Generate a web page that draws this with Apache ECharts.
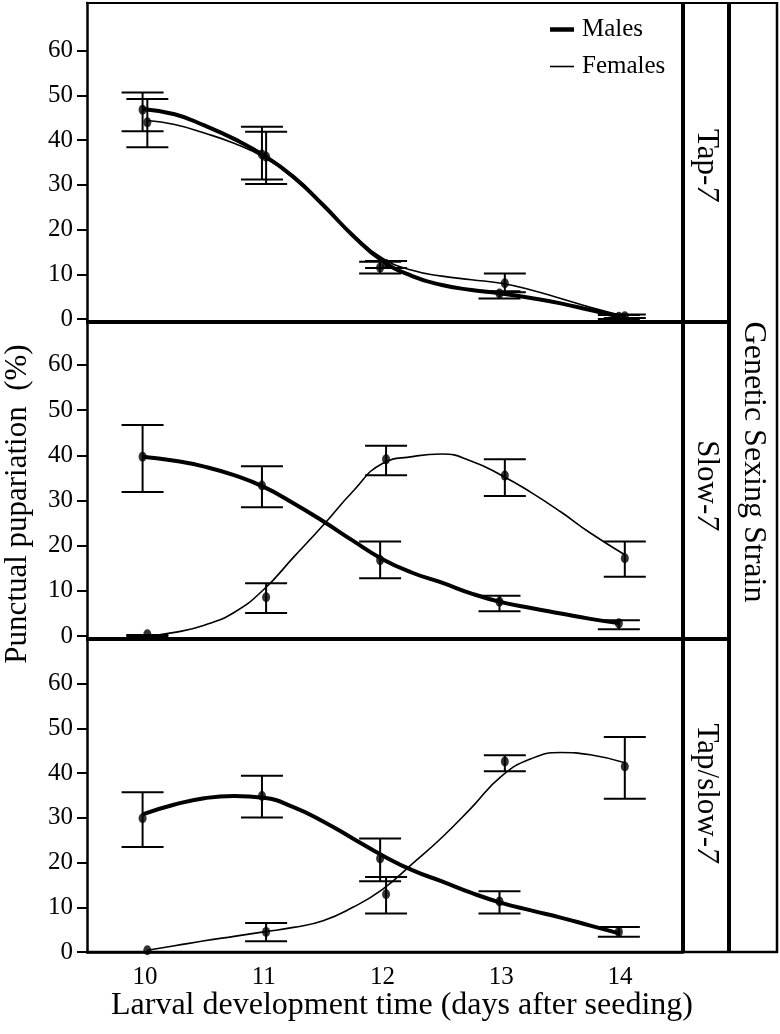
<!DOCTYPE html>
<html><head><meta charset="utf-8">
<script src="https://cdn.jsdelivr.net/npm/echarts@6.0.0/dist/echarts.min.js"></script>
<style>html,body{margin:0;padding:0;background:#fff}#c{width:780px;height:1034px}</style>
</head><body><div id="c"></div>
<script>
// ---------- data ----------
const dayTicks = [10, 11, 12, 13, 14];
const yTicks = [0, 10, 20, 30, 40, 50, 60];
// slight horizontal dodge of the two sexes
const maleX = [9.98, 10.985, 11.98, 12.985, 13.99];
const femaleX = [10.02, 11.02, 12.03, 13.03, 14.04];

const strainLabels = ['Tap-', 'Slow-', 'Tap/slow-'];
const seriesNames = ['Males', 'Females'];

// x positions of the fitted-curve readings
const curveX = [10, 10.25, 10.5, 10.75, 11, 11.25, 11.5, 11.75, 12, 12.25, 12.5, 12.75, 13, 13.25, 13.5, 13.75, 14];

// Panel 1: Tap-7
const tapMaleMean = [46.8, 36.8, 11.5, 5.7, 0.5];
const tapMaleLow = [42.0, 31.2, 10.2, 4.6, 0.0];
const tapMaleHigh = [50.7, 43.0, 12.8, 6.2, 0.9];
const tapFemaleMean = [44.0, 36.3, 12.3, 8.0, 0.6];
const tapFemaleLow = [38.4, 30.2, 11.4, 6.0, 0.2];
const tapFemaleHigh = [49.2, 41.9, 13.0, 10.2, 1.0];
const tapMaleCurve = [47.0, 45.8, 43.3, 40.3, 36.6, 31.8, 25.5, 18.7, 13.0, 9.6, 7.6, 6.5, 5.7, 4.7, 3.5, 2.0, 0.5];
const tapFemaleCurve = [44.4, 43.5, 41.6, 39.3, 36.2, 31.5, 25.4, 18.9, 13.6, 10.9, 9.6, 8.8, 8.0, 6.5, 4.6, 2.6, 0.6];

// Panel 2: Slow-7
const slowMaleMean = [39.7, 33.3, 16.8, 7.6, 2.8];
const slowMaleLow = [31.9, 28.5, 12.8, 5.5, 1.5];
const slowMaleHigh = [46.7, 37.6, 20.9, 8.9, 3.5];
const slowFemaleMean = [0.4, 8.6, 39.1, 35.5, 17.2];
const slowFemaleLow = [0.0, 5.1, 35.6, 31.0, 13.1];
const slowFemaleHigh = [0.2, 11.7, 42.1, 39.1, 20.9];
const slowMaleCurve = [39.7, 38.8, 37.5, 35.6, 33.0, 29.4, 25.4, 21.1, 17.0, 14.0, 11.8, 9.4, 7.5, 6.2, 5.0, 3.8, 2.8];
const slowFemaleCurve = [0.0, 0.8, 2.4, 5.2, 10.3, 17.4, 24.5, 32.0, 38.2, 39.7, 40.3, 38.7, 35.6, 31.8, 27.5, 22.8, 18.0];

// Panel 3: Tap/slow-7
const tsMaleMean = [29.9, 34.9, 20.9, 11.3, 4.5];
const tsMaleLow = [23.5, 30.1, 15.8, 8.6, 3.4];
const tsMaleHigh = [35.7, 39.4, 25.4, 13.6, 5.6];
const tsFemaleMean = [0.4, 4.5, 12.9, 42.6, 41.5];
const tsFemaleLow = [null, 2.4, 8.6, 40.4, 34.3];
const tsFemaleHigh = [null, 6.5, 16.8, 44.0, 48.1];
const tsMaleCurve = [30.8, 33.0, 34.4, 34.9, 34.5, 32.4, 29.2, 25.4, 21.6, 18.3, 15.8, 13.2, 11.0, 9.3, 7.7, 5.9, 4.1];
const tsFemaleCurve = [0.4, 1.4, 2.5, 3.5, 4.5, 5.5, 7.0, 10.0, 14.0, 19.7, 25.6, 32.3, 39.3, 43.2, 44.6, 44.1, 42.3];

// ---------- build ----------
const FONT = '"Liberation Serif", serif';
const richSerif = {s: {fontFamily: FONT, fontSize: 25, color: '#000'}};
const panels = [
  {mMean: tapMaleMean, mLow: tapMaleLow, mHigh: tapMaleHigh, fMean: tapFemaleMean, fLow: tapFemaleLow, fHigh: tapFemaleHigh,
   mc: tapMaleCurve, fc: tapFemaleCurve},
  {mMean: slowMaleMean, mLow: slowMaleLow, mHigh: slowMaleHigh, fMean: slowFemaleMean, fLow: slowFemaleLow, fHigh: slowFemaleHigh,
   mc: slowMaleCurve, fc: slowFemaleCurve},
  {mMean: tsMaleMean, mLow: tsMaleLow, mHigh: tsMaleHigh, fMean: tsFemaleMean, fLow: tsFemaleLow, fHigh: tsFemaleHigh,
   mc: tsMaleCurve, fc: tsFemaleCurve}
];
const gridLayout = [
  {top: 3, height: 319, min: -0.67, max: 70.7},
  {top: 322, height: 317, min: -0.66, max: 69.5},
  {top: 639, height: 313, min: 0, max: 70}
];
const PL = 87, PR = 683;

function zip(a, b) { return a.map((v, i) => [v, b[i]]); }
function errData(xs, lo, hi) {
  const out = [];
  xs.forEach((x, i) => { if (lo[i] != null && hi[i] != null) out.push([x, lo[i], hi[i]]); });
  return out;
}
function errRender(params, api) {
  const x = api.value(0), lo = api.value(1), hi = api.value(2);
  const t = api.coord([x, hi]), b = api.coord([x, lo]);
  const hw = 21;
  const st = {stroke: '#000', lineWidth: 2, fill: null};
  return {type: 'group', children: [
    {type: 'line', shape: {x1: t[0], y1: t[1], x2: b[0], y2: b[1]}, style: st},
    {type: 'line', shape: {x1: t[0] - hw, y1: t[1], x2: t[0] + hw, y2: t[1]}, style: st},
    {type: 'line', shape: {x1: b[0] - hw, y1: b[1], x2: b[0] + hw, y2: b[1]}, style: st}
  ]};
}
const richFmt = (v) => '{s|' + v + '}';

const grids = [], xAxes = [], yAxes = [], series = [];
gridLayout.forEach((g, i) => {
  grids.push({left: PL, width: PR - PL, top: g.top, height: g.height, containLabel: false});
  xAxes.push({
    type: 'value', gridIndex: i, min: 9.512, max: 14.53,
    axisLine: {show: i === 2, lineStyle: {color: '#000', width: 2.5}},
    axisTick: {show: false},
    splitLine: {show: false},
    axisLabel: {show: i === 2, customValues: dayTicks, margin: 13, color: '#000',
      fontFamily: FONT, fontSize: 25, formatter: richFmt, rich: richSerif}
  });
  yAxes.push({
    type: 'value', gridIndex: i, min: g.min, max: g.max,
    axisLine: {show: true, lineStyle: {color: '#000', width: 2.5}},
    axisTick: {show: true, customValues: yTicks, length: 10, lineStyle: {color: '#000', width: 2}},
    axisLabel: {customValues: yTicks, margin: 14, color: '#000', fontFamily: FONT, fontSize: 25,
      formatter: richFmt, rich: richSerif},
    splitLine: {show: false}
  });
  const p = panels[i];
  const mcx = curveX.slice(); mcx[0] = 9.98;
  const fcx = curveX.slice(); fcx[0] = 10.02; fcx[fcx.length - 1] = 14.04;
  series.push({
    name: seriesNames[0], type: 'line', xAxisIndex: i, yAxisIndex: i,
    data: zip(mcx, p.mc), smooth: 0.5, symbol: 'none', showSymbol: false,
    lineStyle: {color: '#000', width: 4}, itemStyle: {color: '#000'}, z: 3, silent: true
  });
  series.push({
    name: seriesNames[1], type: 'line', xAxisIndex: i, yAxisIndex: i,
    data: zip(fcx, p.fc), smooth: 0.5, symbol: 'none', showSymbol: false,
    lineStyle: {color: '#000', width: 1.6}, itemStyle: {color: '#000'}, z: 3, silent: true
  });
  series.push({
    name: 'err-m' + i, type: 'custom', xAxisIndex: i, yAxisIndex: i,
    data: errData(maleX, p.mLow, p.mHigh), renderItem: errRender,
    encode: {x: 0, y: [1, 2]}, z: 2, silent: true, clip: false
  });
  series.push({
    name: 'err-f' + i, type: 'custom', xAxisIndex: i, yAxisIndex: i,
    data: errData(femaleX, p.fLow, p.fHigh), renderItem: errRender,
    encode: {x: 0, y: [1, 2]}, z: 2, silent: true, clip: false
  });
  series.push({
    name: 'pts-m' + i, type: 'scatter', xAxisIndex: i, yAxisIndex: i,
    data: zip(maleX, p.mMean), symbol: 'circle', symbolSize: [8, 10],
    itemStyle: {color: '#000'}, z: 4, silent: true
  });
  series.push({
    name: 'pts-f' + i, type: 'scatter', xAxisIndex: i, yAxisIndex: i,
    data: zip(femaleX, p.fMean), symbol: 'circle', symbolSize: [8, 10],
    itemStyle: {color: '#000'}, z: 4, silent: true
  });
});

// frame and strip texts
const ln = (x1, y1, x2, y2, w) => ({type: 'line', shape: {x1, y1, x2, y2}, style: {stroke: '#000', lineWidth: w}, z: 10, silent: true});
const stripCenters = [165, 485, 793];
const graphics = [
  ln(86, 3, 778, 3, 2),
  ln(86, 952, 778, 952, 2.5),
  ln(86, 322, 729, 322, 4),
  ln(86, 639, 729, 639, 4),
  ln(683, 2, 683, 953, 4),
  ln(729, 2, 729, 953, 4),
  ln(777, 2, 777, 953, 2.5)
];
const fontStr = (px) => px + 'px ' + FONT;
strainLabels.forEach((s, i) => {
  graphics.push({
    type: 'text', x: 706, y: stripCenters[i], rotation: -Math.PI / 2, z: 11, silent: true,
    style: {text: s + '{i|7}', fill: '#000', font: fontStr(31), align: 'center', verticalAlign: 'middle',
      rich: {i: {fontStyle: 'italic', fontFamily: FONT, fontSize: 31, fill: '#000'}}}
  });
});
graphics.push({
  type: 'text', x: 753, y: 462, rotation: -Math.PI / 2, z: 11, silent: true,
  style: {text: 'Genetic Sexing Strain', fill: '#000', font: fontStr(32), align: 'center', verticalAlign: 'middle'}
});
graphics.push({
  type: 'text', x: 18, y: 504, rotation: Math.PI / 2, z: 11, silent: true,
  style: {text: 'Punctual pupariation  (%)', fill: '#000', font: fontStr(31), align: 'center', verticalAlign: 'middle'}
});
graphics.push({
  type: 'text', x: 402, y: 1006, z: 11, silent: true,
  style: {text: 'Larval development time (days after seeding)', fill: '#000', font: fontStr(32), align: 'center', verticalAlign: 'middle'}
});

const chart = echarts.init(document.getElementById('c'), null, {renderer: 'canvas', width: 780, height: 1034});
chart.setOption({
  animation: false,
  backgroundColor: '#fff',
  textStyle: {fontFamily: FONT, color: '#000'},
  grid: grids, xAxis: xAxes, yAxis: yAxes, series: series,
  legend: {
    data: [
      {name: seriesNames[0], icon: 'path://M0,0H24V4.5H0Z'},
      {name: seriesNames[1], icon: 'path://M0,0H24V1.6H0Z'}
    ],
    orient: 'vertical', left: 545, top: 12, itemWidth: 24, itemHeight: 14, itemGap: 12,
    symbolKeepAspect: true,
    selectedMode: false,
    formatter: '{s|{name}}',
    textStyle: {fontFamily: FONT, fontSize: 25, color: '#000', padding: [0, 0, 0, 3], rich: richSerif}
  },
  graphic: graphics
});
</script></body></html>
